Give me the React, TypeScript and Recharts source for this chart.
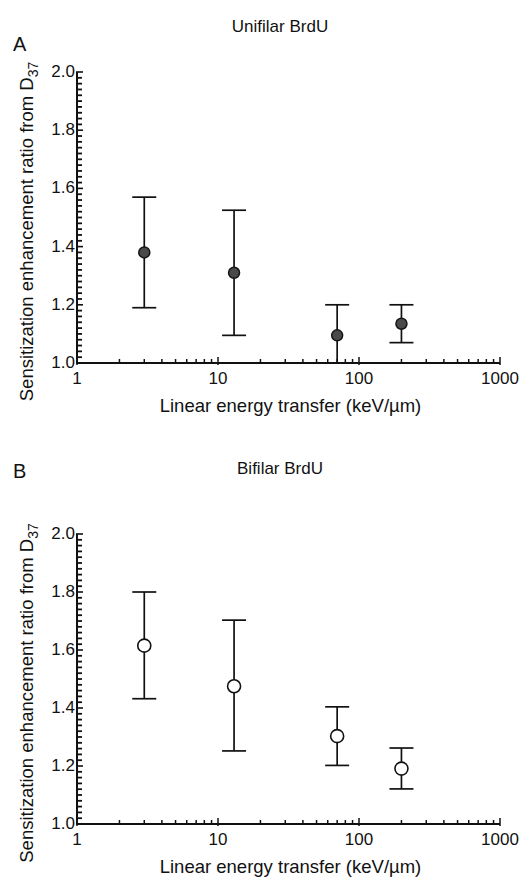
import React from 'react';
import { ScatterChart, Scatter, XAxis, YAxis, ErrorBar } from 'recharts';

// Linear energy transfer (keV/µm)
const letValues = [3, 13, 70, 200];

// Panel A: Unifilar BrdU
const unifilarSER = [1.38, 1.31, 1.095, 1.135];
const unifilarLow = [1.19, 1.095, 1.0, 1.07];
const unifilarHigh = [1.57, 1.525, 1.2, 1.2];

// Panel B: Bifilar BrdU
const bifilarSER = [1.615, 1.475, 1.303, 1.191];
const bifilarLow = [1.432, 1.252, 1.202, 1.121];
const bifilarHigh = [1.8, 1.703, 1.404, 1.262];

const xMajorTicks = [1, 10, 100, 1000];
const xMinorTicks = [2, 3, 4, 5, 6, 7, 8, 9, 20, 30, 40, 50, 60, 70, 80, 90, 200, 300, 400, 500, 600, 700, 800, 900];
const yMajorTicks = [1.0, 1.2, 1.4, 1.6, 1.8, 2.0];
const yMinorTicks = [
  1.0, 1.02, 1.04, 1.06, 1.08, 1.1, 1.12, 1.14, 1.16, 1.18,
  1.2, 1.22, 1.24, 1.26, 1.28, 1.3, 1.32, 1.34, 1.36, 1.38,
  1.4, 1.42, 1.44, 1.46, 1.48, 1.5, 1.52, 1.54, 1.56, 1.58,
  1.6, 1.62, 1.64, 1.66, 1.68, 1.7, 1.72, 1.74, 1.76, 1.78,
  1.8, 1.82, 1.84, 1.86, 1.88, 1.9, 1.92, 1.94, 1.96, 1.98, 2.0,
];

const xTicks = [...xMajorTicks, ...xMinorTicks].sort((a, b) => a - b);

const FONT = '"Liberation Sans", Arial, Helvetica, sans-serif';
const INK = '#111';

const build = (ser: number[], low: number[], high: number[]) =>
  letValues.map((x, i) => ({ let: x, ser: ser[i], err: [ser[i] - low[i], high[i] - ser[i]] }));

const unifilarData = build(unifilarSER, unifilarLow, unifilarHigh);
const bifilarData = build(bifilarSER, bifilarLow, bifilarHigh);

const XTick = (props: any) => {
  const { x, y, payload } = props;
  const v = payload.value;
  const major = xMajorTicks.includes(v);
  return (
    <g>
      <line x1={x} x2={x} y1={y + (major ? 2 : 0)} y2={y - (major ? 6 : 4)} stroke={INK} strokeWidth={1.5} />
      {major && (
        <text x={x} y={y + 21} textAnchor="middle" fontSize={17} fill={INK} fontFamily={FONT}>
          {v}
        </text>
      )}
    </g>
  );
};

const YTick = (props: any) => {
  const { x, y, payload } = props;
  const v = Number(payload.value);
  const major = yMajorTicks.some((m) => Math.abs(m - v) < 1e-6);
  return (
    <g>
      <line x1={x - 1} x2={x + (major ? 6 : 5)} y1={y} y2={y} stroke={INK} strokeWidth={major ? 1.6 : 1.8} />
      {major && (
        <text x={x - 2} y={y + 5} textAnchor="end" fontSize={17} fill={INK} fontFamily={FONT}>
          {v.toFixed(1)}
        </text>
      )}
    </g>
  );
};

const YLabel = (props: any) => {
  const vb = props.viewBox || {};
  const cx = vb.x - 4;
  const cy = vb.y + vb.height / 2 + 14;
  return (
    <text
      x={cx}
      y={cy}
      transform={`rotate(-90, ${cx}, ${cy})`}
      textAnchor="middle"
      fontSize={18.5}
      fill={INK}
      fontFamily={FONT}
    >
      Sensitization enhancement ratio from D
      <tspan fontSize={14} dy={5}>37</tspan>
    </text>
  );
};

const XLabel = (props: any) => {
  const vb = props.viewBox || {};
  const cx = vb.x + vb.width / 2 + 2;
  const cy = vb.y + 49;
  return (
    <text x={cx} y={cy} textAnchor="middle" fontSize={18.5} fill={INK} fontFamily={FONT}>
      Linear energy  transfer (keV/µm)
    </text>
  );
};

const FilledDot = (props: any) => (
  <circle cx={props.cx} cy={props.cy} r={5.5} fill="#4a4a4a" stroke="#151515" strokeWidth={1.5} />
);
const OpenDot = (props: any) => (
  <circle cx={props.cx} cy={props.cy} r={6.5} fill="#fff" stroke={INK} strokeWidth={1.6} />
);

type PanelProps = {
  letter: string;
  title: string;
  data: any[];
  height: number;
  top: number;
  bottom: number;
  titleTop: number;
  letterTop: number;
  filled: boolean;
};

const Panel = ({ letter, title, data, height, top, bottom, titleTop, letterTop, filled }: PanelProps) => (
  <div style={{ position: 'relative', width: 525, height }}>
    <div
      style={{
        position: 'absolute',
        left: 13,
        top: letterTop,
        fontSize: 20,
        fontFamily: FONT,
        color: INK,
        lineHeight: '22px',
      }}
    >
      {letter}
    </div>
    <div
      style={{
        position: 'absolute',
        left: 0,
        width: 560,
        textAlign: 'center',
        top: titleTop,
        fontSize: 17,
        fontFamily: FONT,
        color: INK,
        lineHeight: '18px',
      }}
    >
      {title}
    </div>
    <ScatterChart width={525} height={height} margin={{ top, right: 25, bottom, left: 37 }}>
      <XAxis
        type="number"
        dataKey="let"
        scale="log"
        domain={[1, 1000]}
        allowDataOverflow
        ticks={xTicks}
        interval={0}
        minTickGap={0}
        tick={<XTick />}
        tickLine={false}
        tickSize={0}
        tickMargin={0}
        height={30}
        axisLine={{ stroke: INK, strokeWidth: 2 }}
        label={<XLabel />}
      />
      <YAxis
        type="number"
        dataKey="ser"
        domain={[1, 2]}
        allowDataOverflow
        ticks={yMinorTicks}
        interval={0}
        minTickGap={0}
        tick={<YTick />}
        tickLine={false}
        tickSize={0}
        tickMargin={0}
        width={40}
        axisLine={{ stroke: INK, strokeWidth: 2 }}
        label={<YLabel />}
      />
      <Scatter data={data} isAnimationActive={false} shape={filled ? <FilledDot /> : <OpenDot />}>
        <ErrorBar dataKey="err" direction="y" width={12} stroke={INK} strokeWidth={1.7} isAnimationActive={false} />
      </Scatter>
    </ScatterChart>
  </div>
);

export default function App() {
  return (
    <div style={{ position: 'absolute', left: 0, top: 0, width: 525, height: 885, background: '#fff' }}>
      <Panel
        letter="A"
        title="Unifilar BrdU"
        data={unifilarData}
        height={442}
        top={72}
        bottom={49}
        titleTop={18}
        letterTop={33}
        filled
      />
      <Panel
        letter="B"
        title="Bifilar BrdU"
        data={bifilarData}
        height={443}
        top={92}
        bottom={31}
        titleTop={18}
        letterTop={18}
        filled={false}
      />
    </div>
  );
}
